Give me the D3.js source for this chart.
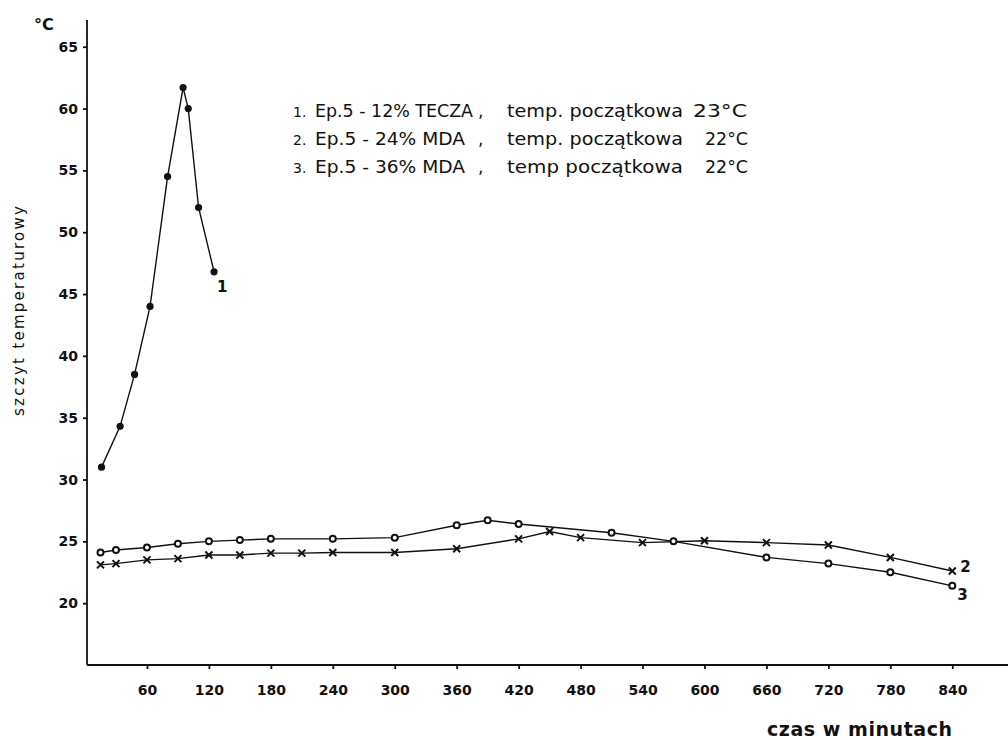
<!DOCTYPE html>
<meta charset="utf-8">
<style>
body { margin: 0; background: #fff; }
svg { display: block; }
.axis path, .axis line { stroke: #111; stroke-width: 1.8; }
.axis text { font-family: "DejaVu Sans", sans-serif; font-weight: bold; font-size: 14px; fill: #111; }
.series { fill: none; stroke: #111; stroke-width: 1.4; }
.lbl { font-family: "DejaVu Sans", sans-serif; fill: #111; }
</style>
<svg width="1008" height="740"></svg>
<script src="https://d3js.org/d3.v7.min.js"></script>
<script>

// 1. Ep.5 - 12% TECZA (time in minutes, peak temperature in °C)
var times1 = [16, 34, 48, 63, 80, 95, 100, 110, 125];
var temps1 = [31.0, 34.3, 38.5, 44.0, 54.5, 61.7, 60.0, 52.0, 46.8];

// 2. Ep.5 - 24% MDA
var times2 = [15, 30, 60, 90, 120, 150, 180, 210, 240, 300, 360, 420, 450, 480, 540, 600, 660, 720, 780, 840];
var temps2 = [23.1, 23.2, 23.5, 23.6, 23.9, 23.9, 24.05, 24.05, 24.1, 24.1, 24.4, 25.2, 25.8, 25.3, 24.9, 25.05, 24.9, 24.7, 23.7, 22.6];

// 3. Ep.5 - 36% MDA
var times3 = [15, 30, 60, 90, 120, 150, 180, 240, 300, 360, 390, 420, 510, 570, 660, 720, 780, 840];
var temps3 = [24.1, 24.3, 24.5, 24.8, 25.0, 25.1, 25.2, 25.2, 25.3, 26.3, 26.7, 26.4, 25.7, 25.0, 23.7, 23.2, 22.5, 21.4];

var xTicks = [60, 120, 180, 240, 300, 360, 420, 480, 540, 600, 660, 720, 780, 840];
var yTicks = [20, 25, 30, 35, 40, 45, 50, 55, 60, 65];

var legendNums = ["1.", "2.", "3."];
var legendNames = ["Ep.5 - 12% TECZA", "Ep.5 - 24% MDA", "Ep.5 - 36% MDA"];
var legendTemp = ["temp. początkowa", "temp. początkowa", "temp początkowa"];
var legendStart = ["23°C", "22°C", "22°C"];

var svg = d3.select("svg");

var x = d3.scaleLinear().domain([0, 893]).range([85, 1007]);
var y = d3.scaleLinear().domain([15, 67]).range([665, 22]);
var axisX = 87;

// axes
svg.append("g")
    .attr("class", "axis")
    .attr("transform", "translate(0," + y(15) + ")")
    .call(d3.axisBottom(x).tickValues(xTicks).tickSize(4).tickPadding(16).tickSizeOuter(0))
    .call(function(g) { g.select(".domain").attr("d", "M" + axisX + ",0H1008"); });

svg.append("g")
    .attr("class", "axis")
    .attr("transform", "translate(" + axisX + ",0)")
    .call(d3.axisLeft(y).tickValues(yTicks).tickSize(4).tickPadding(5).tickSizeOuter(0))
    .call(function(g) { g.select(".domain").attr("d", "M0,20V" + y(15)); });

// series
var series = [
  { t: times1, v: temps1, mark: "dot" },
  { t: times2, v: temps2, mark: "cross" },
  { t: times3, v: temps3, mark: "ring" }
];

var line = d3.line()
    .x(function(d) { return x(d[0]); })
    .y(function(d) { return y(d[1]); });

series.forEach(function(s) {
  var pts = d3.zip(s.t, s.v);
  svg.append("path").attr("class", "series").attr("d", line(pts));

  var g = svg.append("g");
  if (s.mark === "cross") {
    g.selectAll("path").data(pts).enter().append("path")
        .attr("d", function(d) {
          var cx = x(d[0]), cy = y(d[1]), r = 3.5;
          return "M" + (cx - r) + "," + (cy - r) + "L" + (cx + r) + "," + (cy + r) +
                 "M" + (cx - r) + "," + (cy + r) + "L" + (cx + r) + "," + (cy - r);
        })
        .attr("stroke", "#111").attr("stroke-width", 2);
  } else {
    g.selectAll("circle").data(pts).enter().append("circle")
        .attr("cx", function(d) { return x(d[0]); })
        .attr("cy", function(d) { return y(d[1]); })
        .attr("r", s.mark === "dot" ? 3.6 : 3)
        .attr("fill", s.mark === "dot" ? "#111" : "#fff")
        .attr("stroke", "#111").attr("stroke-width", s.mark === "dot" ? 0 : 2);
  }
});

// curve numbers at line ends
var last1 = times1.length - 1, last2 = times2.length - 1, last3 = times3.length - 1;
svg.append("text").attr("class", "lbl").attr("font-size", 15).attr("font-weight", "bold")
    .attr("x", x(times1[last1]) + 3).attr("y", y(temps1[last1]) + 20).text("1");
svg.append("text").attr("class", "lbl").attr("font-size", 15).attr("font-weight", "bold")
    .attr("x", x(times2[last2]) + 8).attr("y", y(temps2[last2]) + 1).text("2");
svg.append("text").attr("class", "lbl").attr("font-size", 15).attr("font-weight", "bold")
    .attr("x", x(times3[last3]) + 5).attr("y", y(temps3[last3]) + 14).text("3");

// legend
var legend = svg.append("g").attr("class", "lbl").attr("font-size", 17);
legendNames.forEach(function(name, i) {
  var by = 117 + i * 28;
  legend.append("text").attr("x", 293).attr("y", by).attr("font-size", 14).text(legendNums[i]);
  legend.append("text").attr("x", 315).attr("y", by)
      .attr("textLength", i === 0 ? 158 : 150).attr("lengthAdjust", "spacingAndGlyphs").text(name);
  legend.append("text").attr("x", 478).attr("y", by).text(",");
  legend.append("text").attr("x", 507).attr("y", by)
      .attr("textLength", 176).attr("lengthAdjust", "spacingAndGlyphs").text(legendTemp[i]);
  legend.append("text").attr("x", i === 0 ? 693 : 705).attr("y", by)
      .attr("textLength", i === 0 ? 54 : 43).attr("lengthAdjust", "spacingAndGlyphs").text(legendStart[i]);
});

// axis titles
svg.append("text").attr("class", "lbl").attr("x", 34).attr("y", 30)
    .attr("font-size", 16).attr("font-weight", "bold").text("°C");

svg.append("text").attr("class", "lbl")
    .attr("transform", "translate(24,311) rotate(-90)")
    .attr("text-anchor", "middle").attr("font-size", 15)
    .attr("textLength", 210).attr("lengthAdjust", "spacing")
    .text("szczyt temperaturowy");

svg.append("text").attr("class", "lbl").attr("x", 767).attr("y", 736)
    .attr("font-size", 19).attr("font-weight", "bold")
    .attr("textLength", 185).attr("lengthAdjust", "spacing")
    .text("czas w minutach");

</script>
